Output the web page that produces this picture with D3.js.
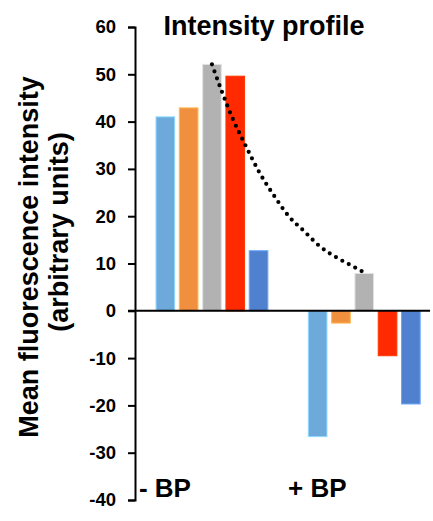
<!DOCTYPE html>
<html>
<head>
<meta charset="utf-8">
<script src="https://cdn.jsdelivr.net/npm/d3@7"></script>
<style>
  html, body { margin: 0; padding: 0; background: #fff; }
  svg { display: block; }
  text { font-family: Arial, "Liberation Sans", Helvetica, sans-serif; font-weight: bold; fill: #000; }
</style>
</head>
<body>
<svg id="chart" width="433" height="521"></svg>
<script>
// ---- data ----
const categories = ["- BP", "+ BP"];
const seriesNames = ["s1", "s2", "s3", "s4", "s5"];
const seriesColors = ["#6EA9DB", "#F0903E", "#B2B2B2", "#FF2A00", "#5081CF"];
const valuesMinusBP = [41.0, 42.9, 52.1, 49.6, 12.7];
const valuesPlusBP = [-26.6, -2.6, 7.9, -9.5, -19.7];
const yTickValues = [60, 50, 40, 30, 20, 10, 0, -10, -20, -30, -40];
// dotted trend curve: fraction of the way between the two grey bars, and value
const trendT = [0, 0.067, 0.139, 0.220, 0.314, 0.417, 0.504, 0.603, 0.706, 0.822, 0.920, 1.0];
const trendV = [52.1, 46.2, 40.4, 35.0, 29.1, 23.9, 20.0, 16.9, 13.7, 11.2, 9.5, 8.1];
const titleText = "Intensity profile";
const yTitleLines = ["Mean fluorescence intensity", "(arbitrary units)"];

// ---- chart ----
const svg = d3.select("#chart");
const axisX = 135;

const y = d3.scaleLinear().domain([-40, 60]).range([500, 27]);
const x0 = d3.scaleBand().domain(categories).range([153.7, 422.5]).paddingInner(0.235).paddingOuter(0);
const x1 = d3.scaleBand().domain(seriesNames).range([0, x0.bandwidth()]).paddingInner(0.2).paddingOuter(0.1);

const data = [valuesMinusBP, valuesPlusBP];

// bars
const groups = svg.selectAll("g.grp").data(categories).enter().append("g")
  .attr("class", "grp")
  .attr("transform", d => `translate(${x0(d)},0)`);

groups.each(function(cat, gi) {
  d3.select(this).selectAll("rect").data(data[gi]).enter().append("rect")
    .attr("x", (d, i) => x1(seriesNames[i]))
    .attr("width", x1.bandwidth())
    .attr("y", d => y(Math.max(0, d)))
    .attr("height", d => Math.abs(y(d) - y(0)))
    .attr("fill", (d, i) => seriesColors[i])
    .attr("stroke", (d, i) => d3.color(seriesColors[i]).brighter(0.7))
    .attr("stroke-width", 1);
});

// zero line
svg.append("line")
  .attr("x1", axisX - 7).attr("x2", 430)
  .attr("y1", y(0)).attr("y2", y(0))
  .attr("stroke", "#000").attr("stroke-width", 2);

// y axis
const yAxis = svg.append("g")
  .attr("transform", `translate(${axisX},0)`)
  .call(d3.axisLeft(y).tickValues(yTickValues).tickSize(7).tickPadding(12).tickFormat(d => String(d)));
yAxis.selectAll("path, line").attr("stroke", "#000").attr("stroke-width", 2);
yAxis.selectAll("text").style("font-size", "18.5px").style("font-weight", "bold")
  .style("font-family", "Arial, 'Liberation Sans', sans-serif").attr("fill", "#000");

// dotted trend curve
const grey = seriesNames[2];
const gx1 = x0(categories[0]) + x1(grey) + x1.bandwidth() / 2;
const gx2 = x0(categories[1]) + x1(grey) + x1.bandwidth() / 2;
const trendPts = trendT.map((t, i) => [gx1 + t * (gx2 - gx1), y(trendV[i])]);
svg.append("path")
  .attr("d", d3.line().curve(d3.curveMonotoneX)(trendPts))
  .attr("fill", "none")
  .attr("stroke", "#000")
  .attr("stroke-width", 4.2)
  .attr("stroke-linecap", "round")
  .attr("stroke-dasharray", "0 7.3");

// category labels
svg.selectAll("text.cat").data(categories).enter().append("text")
  .attr("class", "cat")
  .attr("x", d => x0(d) + x0.bandwidth() / 2 - 47)
  .attr("y", 497)
  .attr("text-anchor", "middle")
  .style("font-size", "26px")
  .text(d => d);

// title
svg.append("text")
  .attr("x", 264).attr("y", 35)
  .attr("text-anchor", "middle")
  .style("font-size", "27px")
  .text(titleText);

// y title
const yTitlePos = [{ x: 38, cy: 257 }, { x: 68, cy: 232 }];
yTitleLines.forEach((line, i) => {
  svg.append("text")
    .attr("transform", `translate(${yTitlePos[i].x},${yTitlePos[i].cy}) rotate(-90)`)
    .attr("text-anchor", "middle")
    .style("font-size", "27px")
    .text(line);
});
</script>
</body>
</html>
